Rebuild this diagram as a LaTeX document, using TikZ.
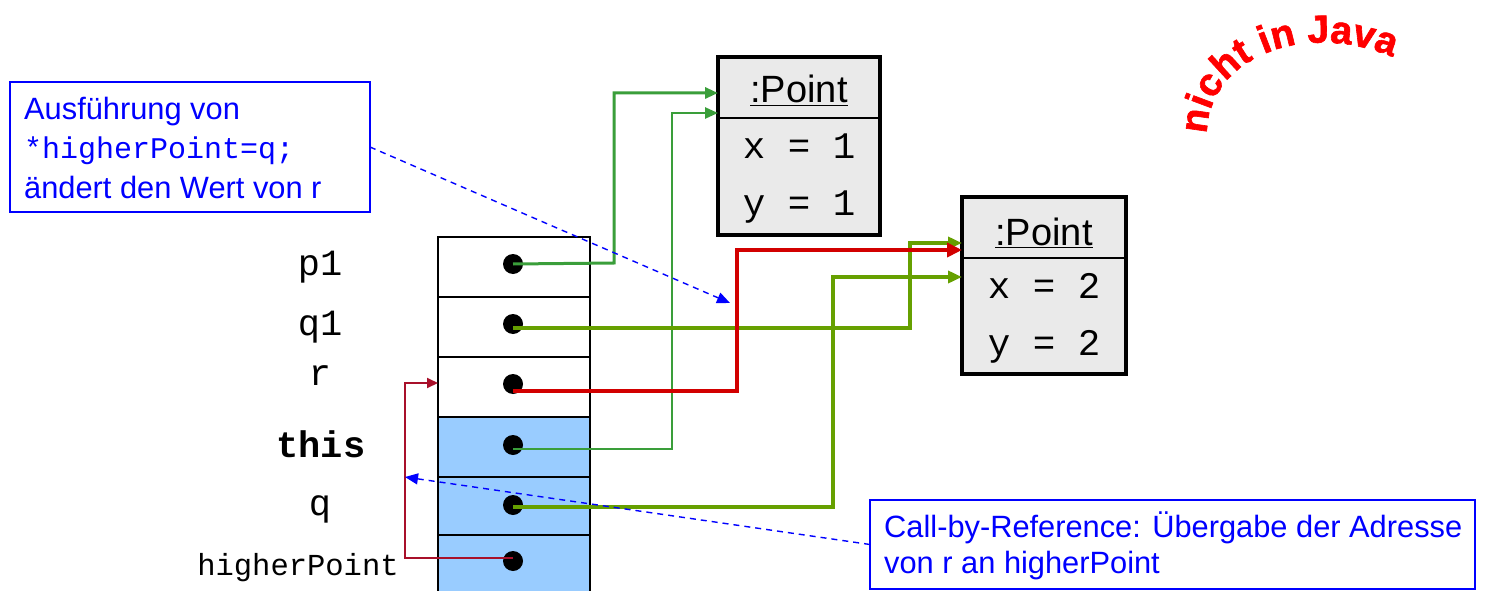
\documentclass[tikz,border=0pt]{standalone}
\usepackage{fontspec}
\setmainfont{Liberation Sans}
\setmonofont{Liberation Mono}
\newfontfamily\heavyfont[FakeBold=1.6]{Liberation Sans Bold}
\usetikzlibrary{arrows.meta,decorations.text,calc}
\definecolor{pgreen}{RGB}{58,158,58}
\definecolor{olivegr}{RGB}{102,160,0}
\definecolor{pred}{RGB}{210,0,0}
\definecolor{dred}{RGB}{168,16,42}
\definecolor{stackblue}{RGB}{153,204,255}
\definecolor{ptgray}{RGB}{234,234,234}
\definecolor{nblue}{RGB}{0,0,255}
\begin{document}
\begin{tikzpicture}[x=1pt,y=-1pt,
  cell/.style={draw=black,line width=2pt,minimum width=152pt,inner sep=0pt,outer sep=0pt},
  dot/.style={circle,fill=black,minimum size=20pt,inner sep=0pt},
  ptbox/.style={draw=black,line width=4pt,fill=ptgray,inner sep=0pt,outer sep=0pt},
  lbl/.style={font=\fontsize{37}{40}\selectfont\ttfamily,anchor=base,inner sep=0pt},
  ptitle/.style={font=\fontsize{38}{40}\selectfont,anchor=base,inner sep=0pt},
  notebox/.style={draw=nblue,line width=1.5pt,inner sep=0pt,outer sep=0pt},
  notetxt/.style={font=\fontsize{30.8}{32}\selectfont,text=nblue,anchor=base west,inner sep=0pt},
  lgreen/.style={draw=pgreen,line width=3pt,-{Triangle[length=13pt,width=11pt]}},
  lolive/.style={draw=olivegr,line width=4.5pt,-{Triangle[length=14pt,width=12pt]}},
  lred/.style={draw=pred,line width=4.5pt,-{Triangle[length=15pt,width=14pt]}},
  ldred/.style={draw=dred,line width=2pt,-{Triangle[length=11pt,width=10pt]}},
  lnote/.style={draw=nblue,line width=1.4pt,dash pattern=on 6pt off 5pt,-{Triangle[length=13pt,width=11pt]}}
]
\path[use as bounding box] (0,0) rectangle (1485,591);
\clip (0,0) rectangle (1485,591);

% stack
\node[cell,minimum height=60pt] (c1) at (514,267) {};
\node[cell,minimum height=60pt] (c2) at (514,327) {};
\node[cell,minimum height=60pt] (c3) at (514,387) {};
\node[cell,fill=stackblue,minimum height=60pt] (c4) at (514,447) {};
\node[cell,fill=stackblue,minimum height=58pt] (c5) at (514,506) {};
\node[cell,fill=stackblue,minimum height=70pt] (c6) at (514,570) {};

\node[dot] (d1) at (513,264) {};
\node[dot] (d2) at (513,324) {};
\node[dot] (d3) at (513,384) {};
\node[dot] (d4) at (513,445) {};
\node[dot] (d5) at (513,505) {};
\node[dot] (d6) at (513,561) {};

% labels
\node[lbl] (lp1) at (320,275) {p1};
\node[lbl] (lq1) at (320,335) {q1};
\node[lbl] (lr) at (320,385) {r};
\node[lbl,font=\fontsize{37}{40}\selectfont\ttfamily\bfseries] (lthis) at (321,457) {this};
\node[lbl] (lq) at (320,515) {q};
\node[lbl,font=\fontsize{30.5}{32}\selectfont\ttfamily] (lhp) at (298,575) {higherPoint};

% Point objects
\node[ptbox,minimum width=162pt,minimum height=178pt] (pt1) at (799,146) {};
\draw[line width=2pt] (pt1.west |- 0,118) -- (pt1.east |- 0,118);
\node[ptitle] (pt1t) at (799,103) {\underline{:Point}};
\node[lbl,font=\fontsize{37.5}{40}\selectfont\ttfamily] (pt1x) at (799,158) {x = 1};
\node[lbl,font=\fontsize{37.5}{40}\selectfont\ttfamily] (pt1y) at (799,215) {y = 1};

\node[ptbox,minimum width=164pt,minimum height=177pt] (pt2) at (1044,285.5) {};
\draw[line width=2pt] (pt2.west |- 0,258) -- (pt2.east |- 0,258);
\node[ptitle] (pt2t) at (1044,245) {\underline{:Point}};
\node[lbl,font=\fontsize{37.5}{40}\selectfont\ttfamily] (pt2x) at (1044,298) {x = 2};
\node[lbl,font=\fontsize{37.5}{40}\selectfont\ttfamily] (pt2y) at (1044,355) {y = 2};

% connectors
\draw[lgreen] (d1.center) -- (614,263) -- (614,93) -- (pt1.west |- 0,93);
\draw[lgreen,line width=2.5pt] ($(d4.center)+(0,4)$) -- (672,449) -- (672,113) -- (pt1.west |- 0,113);
\draw[lolive] ($(d2.center)+(0,4)$) -- (910,328) -- (910,243) -- (pt2.west |- 0,243);
\draw[lolive] ($(d5.center)+(0,2)$) -- (833,507) -- (833,277) -- (pt2.west |- 0,277);
\draw[lred] ($(d3.center)+(0,7)$) -- (737,391) -- (737,250) -- (pt2.west |- 0,250);
\draw[ldred] ($(d6.center)+(0,-3)$) -- (405,558) -- (405,383) -- (c3.west |- 0,383);

% notes
\node[notebox,minimum width=360pt,minimum height=130pt] (n1) at (190,147) {};
\node[notetxt] (n1a) at (24,120) {Ausführung von};
\node[notetxt,font=\fontsize{30}{32}\selectfont\ttfamily] (n1b) at (24,158) {*higherPoint=q;};
\node[notetxt] (n1c) at (24,198) {ändert den Wert von r};

\node[notebox,minimum width=605pt,minimum height=89pt] (n2) at (1172.5,544.5) {};
\node[notetxt] (n2a) at (884,537) {Call-by-Reference: Übergabe der Adresse};
\node[notetxt] (n2b) at (884,573) {von r an higherPoint};

\coordinate (e1) at (730,303);
\coordinate (e2) at (405,477);
\draw[lnote] (n1.east) -- (e1);
\draw[lnote] (n2.west) -- (e2);

% curved text
\path[decorate,decoration={text along path,text align={fit to path},
  text={|\fontsize{39}{39}\heavyfont\color{red}|nicht in Java}}]
  (1207,134) .. controls (1207,60) and (1300,20) .. (1390,56);
\end{tikzpicture}
\end{document}
